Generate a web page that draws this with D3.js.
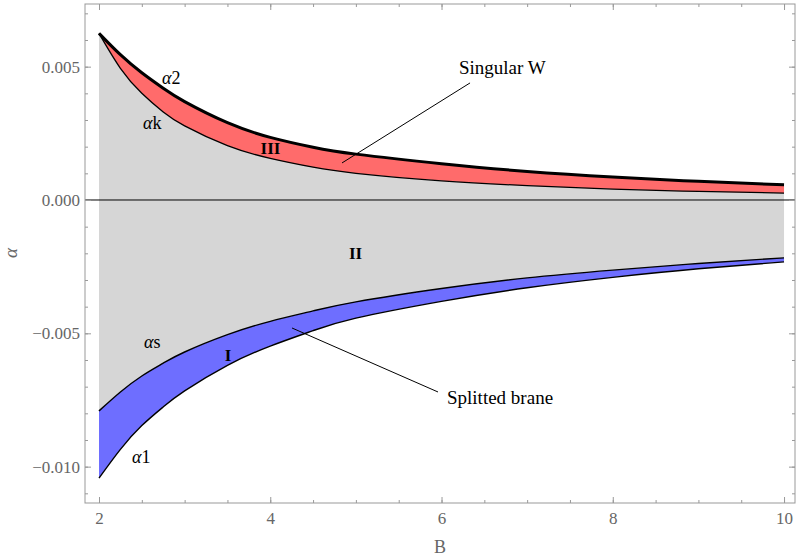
<!DOCTYPE html>
<html>
<head>
<meta charset="utf-8">
<script src="https://cdn.jsdelivr.net/npm/d3@7"></script>
<style>
  body { margin: 0; background: #fff; }
  svg { display: block; font-family: "Liberation Serif", "Times New Roman", "DejaVu Serif", serif; }
  text { font-family: "Liberation Serif", "Times New Roman", "DejaVu Serif", serif; }
</style>
</head>
<body>
<svg width="796" height="557"></svg>
<script>
// values
var B      = [2, 2.25, 2.5, 2.75, 3, 3.5, 4, 4.5, 5, 6, 7, 8, 9, 10];
var alpha2 = [0.00625, 0.00545, 0.00477, 0.00419, 0.00369, 0.0029, 0.00235, 0.00198, 0.00172, 0.00136, 0.00107, 0.00086, 0.0007, 0.00057];
var alphaK = [0.00625, 0.00494, 0.0040, 0.0033, 0.00278, 0.00204, 0.00156, 0.00123, 0.0010, 0.00072, 0.00054, 0.00041, 0.00032, 0.00026];
var alphaS = [-0.00791, -0.0072, -0.0066, -0.00612, -0.0057, -0.00505, -0.00455, -0.00416, -0.00382, -0.00332, -0.00292, -0.00263, -0.00238, -0.00217];
var alpha1 = [-0.01043, -0.00935, -0.00846, -0.00776, -0.00716, -0.0062, -0.00548, -0.0049, -0.00443, -0.0038, -0.00329, -0.0029, -0.00258, -0.00232];

var xTicks = [2, 4, 6, 8, 10];
var yTicks = [-0.010, -0.005, 0.000, 0.005];

// text labels placed in data units
var curveLabels = [
  {g: "\u03b1", t: "2", b: 2.736, a: 0.00435},
  {g: "\u03b1", t: "k", b: 2.514, a: 0.00266},
  {g: "\u03b1", t: "s", b: 2.526, a: -0.00555},
  {g: "\u03b1", t: "1", b: 2.385, a: -0.00986}
];
var regionLabels = [
  {t: "III", b: 4.003, a: 0.00172},
  {t: "II", b: 4.996, a: -0.00221},
  {t: "I", b: 3.507, a: -0.00604}
];
var notes = [
  {t: "Singular W", b: 6.204, a: 0.00472, from: [6.333, 0.00439], to: [4.838, 0.00139]},
  {t: "Splitted brane", b: 6.064, a: -0.00765, from: [5.959, -0.0072], to: [4.254, -0.0048]}
];

var svg = d3.select("svg");
var x = d3.scaleLinear().domain([1.8365, 10.128]).range([85, 795]);
var y = d3.scaleLinear().domain([-0.011363, 0.00735]).range([503, 4]);

var rows = B.map(function(b, i) {
  return {b: b, a2: alpha2[i], ak: alphaK[i], as: alphaS[i], a1: alpha1[i]};
});

function band(top, bot) {
  return d3.area()
    .x(function(d) { return x(d.b); })
    .y0(function(d) { return y(d[bot]); })
    .y1(function(d) { return y(d[top]); })
    .curve(d3.curveNatural);
}
function line(key) {
  return d3.line()
    .x(function(d) { return x(d.b); })
    .y(function(d) { return y(d[key]); })
    .curve(d3.curveNatural);
}

svg.append("path").datum(rows).attr("d", band("ak", "as")).attr("fill", "#d6d6d6");
svg.append("path").datum(rows).attr("d", band("a2", "ak")).attr("fill", "#ff6b6b");
svg.append("path").datum(rows).attr("d", band("as", "a1")).attr("fill", "#6e6eff");

// zero axis
svg.append("line")
  .attr("x1", x.range()[0]).attr("x2", x.range()[1])
  .attr("y1", y(0)).attr("y2", y(0))
  .attr("stroke", "#000").attr("stroke-width", 1);

svg.append("path").datum(rows).attr("d", line("ak")).attr("fill", "none").attr("stroke", "#000").attr("stroke-width", 1.3);
svg.append("path").datum(rows).attr("d", line("as")).attr("fill", "none").attr("stroke", "#000").attr("stroke-width", 1.4);
svg.append("path").datum(rows).attr("d", line("a1")).attr("fill", "none").attr("stroke", "#000").attr("stroke-width", 1.4);
svg.append("path").datum(rows).attr("d", line("a2")).attr("fill", "none").attr("stroke", "#000").attr("stroke-width", 3);

var cl = svg.selectAll("text.lab").data(curveLabels).enter().append("text")
  .attr("class", "lab")
  .attr("x", function(d) { return x(d.b); })
  .attr("y", function(d) { return y(d.a); })
  .attr("font-size", 18);
cl.append("tspan").attr("font-style", "italic").text(function(d) { return d.g; });
cl.append("tspan").text(function(d) { return d.t; });

svg.selectAll("text.reg").data(regionLabels).enter().append("text")
  .attr("class", "reg")
  .attr("x", function(d) { return x(d.b); })
  .attr("y", function(d) { return y(d.a); })
  .attr("text-anchor", "middle")
  .attr("font-size", 17)
  .attr("font-weight", "bold")
  .text(function(d) { return d.t; });

notes.forEach(function(n) {
  svg.append("line")
    .attr("x1", x(n.from[0])).attr("y1", y(n.from[1]))
    .attr("x2", x(n.to[0])).attr("y2", y(n.to[1]))
    .attr("stroke", "#000").attr("stroke-width", 1);
  svg.append("text")
    .attr("x", x(n.b)).attr("y", y(n.a))
    .attr("font-size", 19)
    .text(n.t);
});

// frame with inward ticks
var frameCol = "#999";
var minorX = d3.range(2, 10.01, 0.5);
var minorY = d3.range(-0.011, 0.0071, 0.001);

function styleAxis(g) {
  g.attr("font-family", null);
  g.selectAll(".domain").remove();
  g.selectAll(".tick line").attr("stroke", frameCol);
  g.selectAll(".tick text").attr("fill", "#666").attr("font-size", 17);
}

svg.append("g").attr("transform", "translate(0,503)")
  .call(d3.axisBottom(x).tickValues(minorX).tickSize(-3).tickFormat("")).call(styleAxis);
svg.append("g").attr("transform", "translate(0,503)")
  .call(d3.axisBottom(x).tickValues(xTicks).tickSize(-6).tickPadding(9).tickFormat(d3.format("d"))).call(styleAxis);
svg.append("g").attr("transform", "translate(0,4)")
  .call(d3.axisTop(x).tickValues(minorX).tickSize(-3).tickFormat("")).call(styleAxis);
svg.append("g").attr("transform", "translate(0,4)")
  .call(d3.axisTop(x).tickValues(xTicks).tickSize(-6).tickFormat("")).call(styleAxis);

svg.append("g").attr("transform", "translate(85,0)")
  .call(d3.axisLeft(y).tickValues(minorY).tickSize(-3).tickFormat("")).call(styleAxis);
svg.append("g").attr("transform", "translate(85,0)")
  .call(d3.axisLeft(y).tickValues(yTicks).tickSize(-6).tickPadding(5).tickFormat(d3.format(".3f"))).call(styleAxis);
svg.append("g").attr("transform", "translate(795,0)")
  .call(d3.axisRight(y).tickValues(minorY).tickSize(-3).tickFormat("")).call(styleAxis);
svg.append("g").attr("transform", "translate(795,0)")
  .call(d3.axisRight(y).tickValues(yTicks).tickSize(-6).tickFormat("")).call(styleAxis);

svg.append("rect").attr("x", 85).attr("y", 4).attr("width", 710).attr("height", 499)
  .attr("fill", "none").attr("stroke", frameCol).attr("stroke-width", 1);

// axis titles
svg.append("text").attr("x", 440).attr("y", 553).attr("text-anchor", "middle")
  .attr("fill", "#666").attr("font-size", 18).text("B");
svg.append("text").attr("transform", "translate(17,253) rotate(-90)").attr("text-anchor", "middle")
  .attr("fill", "#666").attr("font-size", 19).attr("font-style", "italic").text("\u03b1");
</script>
</body>
</html>
